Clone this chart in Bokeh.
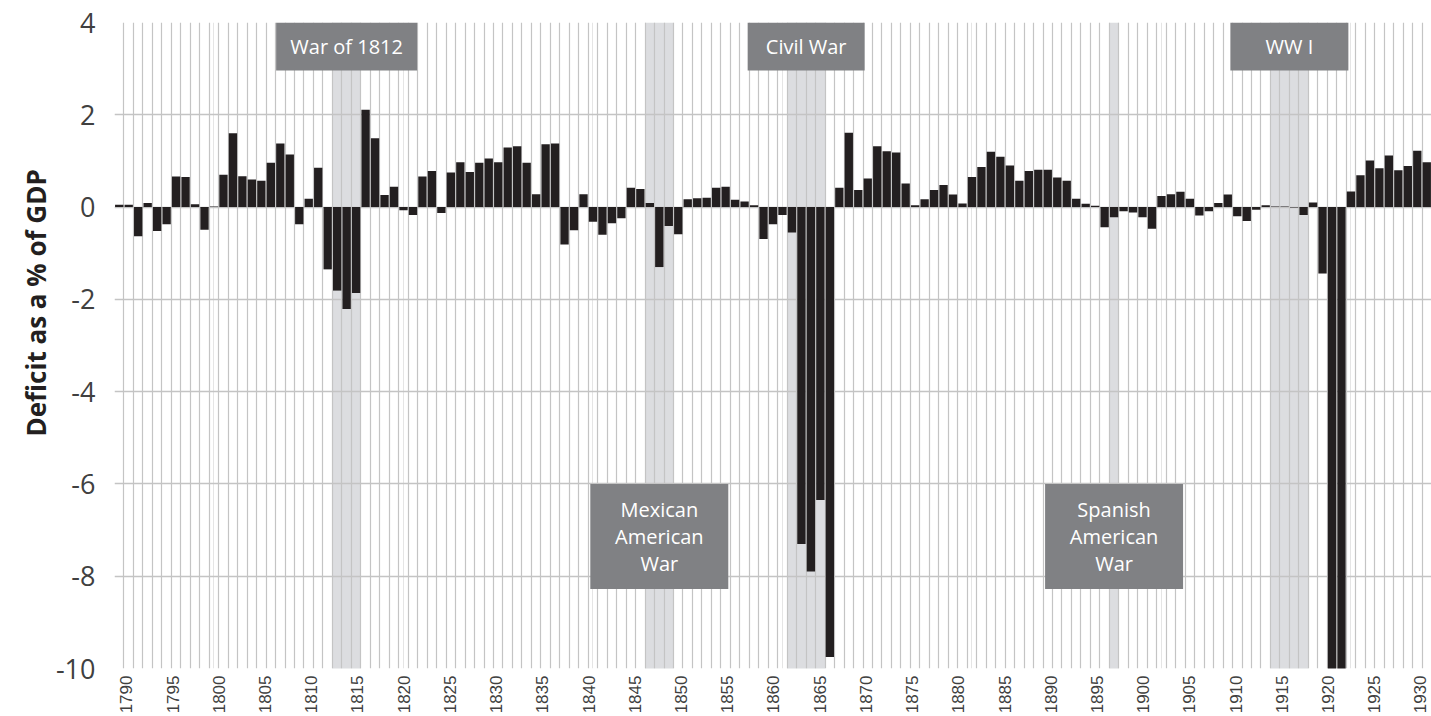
import math
from bokeh.plotting import figure
from bokeh.models import (Range1d, LinearAxis, FixedTicker, Grid, BoxAnnotation,
                          Title, ColumnDataSource, PrintfTickFormatter)
from bokeh.core.properties import value
from bokeh.embed import file_html
from bokeh.resources import INLINE

# ---------------- data ----------------
years = list(range(1790, 1929))
deficit = [
    0.05, 0.05, -0.63, 0.09, -0.52, -0.37, 0.66, 0.65, 0.06, -0.49,    # 1790-1799
    0.01, 0.70, 1.60, 0.67, 0.60, 0.57, 0.96, 1.38, 1.14, -0.37,       # 1800-1809
    0.18, 0.85, -1.35, -1.81, -2.21, -1.86, 2.11, 1.49, 0.26, 0.44,    # 1810-1819
    -0.07, -0.17, 0.66, 0.78, -0.13, 0.75, 0.97, 0.76, 0.96, 1.05,     # 1820-1829
    0.97, 1.29, 1.32, 0.96, 0.28, 1.36, 1.38, -0.81, -0.50, 0.28,      # 1830-1839
    -0.32, -0.60, -0.35, -0.24, 0.42, 0.39, 0.09, -1.30, -0.41, -0.59, # 1840-1849
    0.17, 0.19, 0.20, 0.42, 0.44, 0.16, 0.12, 0.04, -0.69, -0.37,      # 1850-1859
    -0.17, -0.55, -7.30, -7.90, -6.35, -9.75, 0.42, 1.61, 0.37, 0.62,  # 1860-1869
    1.32, 1.21, 1.18, 0.51, 0.04, 0.17, 0.37, 0.48, 0.27, 0.08,        # 1870-1879
    0.65, 0.87, 1.20, 1.09, 0.90, 0.57, 0.78, 0.81, 0.81, 0.64,        # 1880-1889
    0.57, 0.18, 0.07, 0.03, -0.44, -0.22, -0.09, -0.12, -0.22, -0.47,  # 1890-1899
    0.24, 0.28, 0.33, 0.18, -0.18, -0.09, 0.09, 0.27, -0.20, -0.30,    # 1900-1909
    -0.06, 0.04, 0.01, 0.01, -0.01, -0.17, 0.10, -1.44, -11.9, -16.8,  # 1910-1919
    0.34, 0.69, 1.01, 0.84, 1.12, 0.80, 0.89, 1.22, 0.97,              # 1920-1928
]
label_years = list(range(1790, 1931, 5))
y_ticks = list(range(-10, 5, 2))

war_names = ["War of 1812", "Mexican\nAmerican\nWar", "Civil War",
             "Spanish\nAmerican\nWar", "WW I"]
war_start = [1813, 1846, 1861, 1895, 1912]
war_end = [1815, 1848, 1864, 1895, 1915]

# ---------------- layout / style ----------------
W, H = 1431, 716
BAR = "#231f20"
GRID = "#c4c4c4"
SHADE = "#dcdde0"
BOX = "#808184"
TXT = "#404040"
box_w_px = [141, 138, 117, 138, 118]
box_h_px = [48, 105, 48, 105, 48]
box_y = [3.48, -7.14, 3.48, -7.14, 3.48]
label_range = (1788.72, 1931.19)

p = figure(width=W, height=H, output_backend="svg", toolbar_location=None,
           x_range=Range1d(years[0] - 0.5, years[-1] + 0.5),
           y_range=Range1d(y_ticks[0], y_ticks[-1]),
           x_axis_location=None,
           min_border_left=114, min_border_right=0,
           min_border_top=22, min_border_bottom=46)
p.title.visible = False
p.outline_line_color = None
p.background_fill_color = "white"
p.border_fill_color = "white"

# war shading (extends below plot area over the year labels)
for s, e in zip(war_start, war_end):
    p.add_layout(BoxAnnotation(left=s - 0.5, right=e + 0.5,
                               bottom=H, bottom_units="canvas",
                               fill_color=SHADE, fill_alpha=1.0,
                               line_color=None, level="image"))

# y axis
p.yaxis.ticker = FixedTicker(ticks=y_ticks)
p.yaxis.formatter = PrintfTickFormatter(format="%d")
p.yaxis.axis_line_color = None
p.yaxis.major_tick_line_color = None
p.yaxis.minor_tick_line_color = None
p.yaxis.major_tick_out = 0
p.yaxis.minor_tick_out = 0
p.yaxis.major_label_standoff = 19
p.yaxis.major_label_text_font = "Open Sans"
p.yaxis.major_label_text_font_size = "27px"
p.yaxis.major_label_text_color = TXT
p.ygrid.ticker = FixedTicker(ticks=y_ticks)
p.ygrid.grid_line_color = GRID
p.ygrid.grid_line_width = 1.5

# vertical grid at year boundaries
bounds = [y - 0.5 for y in years] + [years[-1] + 0.5]
p.add_layout(Grid(dimension=0, ticker=FixedTicker(ticks=bounds),
                  grid_line_color=GRID, grid_line_width=1.2))

# year label axis
p.extra_x_ranges = {"labels": Range1d(*label_range)}
lab_ax = LinearAxis(x_range_name="labels", ticker=FixedTicker(ticks=label_years),
                    formatter=PrintfTickFormatter(format="%d"),
                    major_label_orientation=math.pi / 2,
                    axis_line_color=None, major_tick_line_color=None,
                    minor_tick_line_color=None, major_tick_out=0,
                    minor_tick_out=0, major_label_standoff=7,
                    major_label_text_font="Liberation Sans",
                    major_label_text_font_size="17px",
                    major_label_text_color=TXT)
p.add_layout(lab_ax, "below")

# y title
p.add_layout(Title(text="Deficit as a % of GDP", align="left", offset=232,
                   text_font="Open Sans", text_font_size="26px",
                   text_font_style="bold", text_color=BAR, standoff=-3), "left")

# bars
src = ColumnDataSource(dict(year=years, deficit=deficit))
p.vbar(x="year", top="deficit", bottom=0, width=0.88, source=src,
       fill_color=BAR, line_color=None)

# war label boxes
wsrc = ColumnDataSource(dict(
    x=[(s + e) / 2 for s, e in zip(war_start, war_end)],
    y=box_y, w=box_w_px, h=box_h_px, name=war_names))
p.rect(x="x", y="y", width="w", height="h", width_units="screen",
       height_units="screen", fill_color=BOX, line_color=None, source=wsrc)
p.text(x="x", y="y", text="name", source=wsrc, text_align="center",
       text_baseline="middle", text_color="white",
       text_font=value("Open Sans"), text_font_size="20px",
       text_line_height=1.0)

open("out.html", "w").write(file_html(p, INLINE))
